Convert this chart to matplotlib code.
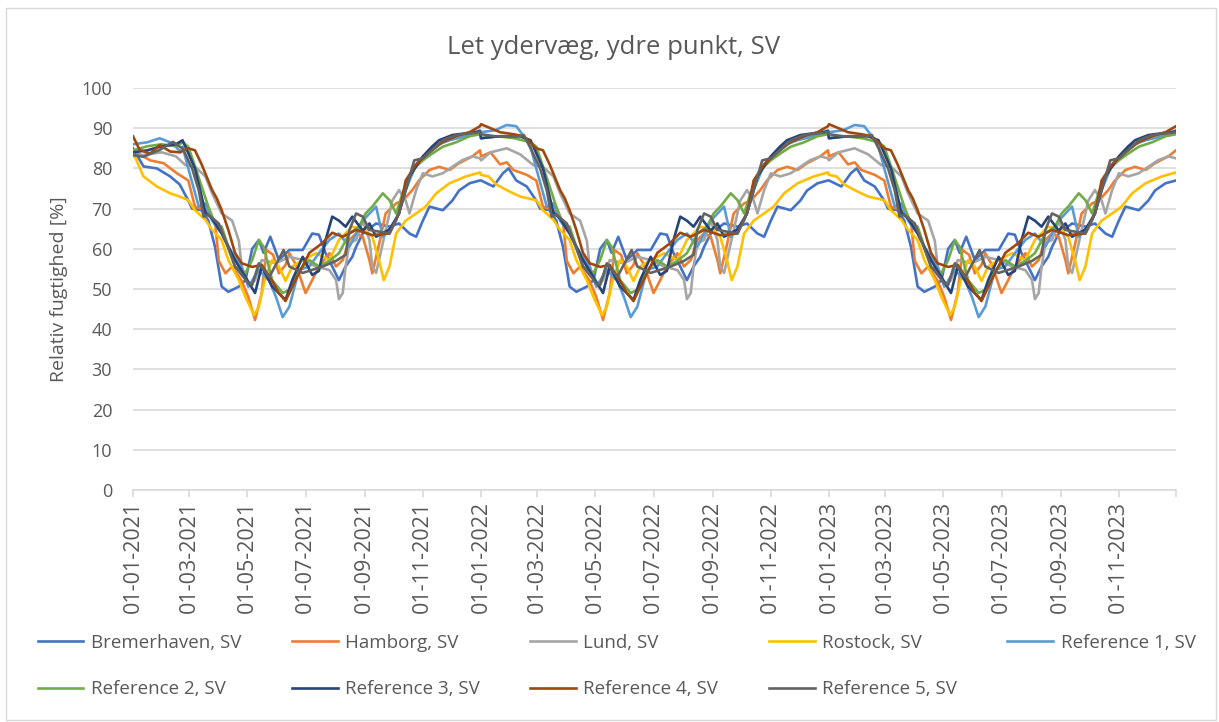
import matplotlib
matplotlib.use("Agg")
import matplotlib.pyplot as plt
import matplotlib.dates as mdates
from matplotlib.patches import Rectangle
import pandas as pd

# ---------------- data ----------------
YEARS = [2021, 2022, 2023]
X_END = "2023-12-31"
TICK_MONTHS = [1, 3, 5, 7, 9, 11]

SERIES_NAMES = ["Bremerhaven, SV", "Hamborg, SV", "Lund, SV", "Rostock, SV",
                "Reference 1, SV", "Reference 2, SV", "Reference 3, SV",
                "Reference 4, SV", "Reference 5, SV"]
COLORS = ["#4472C4", "#ED7D31", "#A5A5A5", "#FFC000", "#5B9BD5",
          "#70AD47", "#264478", "#9E480E", "#636363"]

# one (repeating) year of readings: (day of year, relative humidity %)
BREMERHAVEN = [(0, 77), (13, 75.5), (23, 78.8), (29, 80), (37, 77), (48, 75.5), (58, 72),
               (62, 70), (72, 69.6), (79, 67), (86, 60.5), (93, 50.6), (100, 49.3),
               (111, 50.6), (118, 52.2), (125, 60), (132, 62.2), (137, 59), (144, 63),
               (153, 57.2), (164, 59.7), (178, 59.7), (188, 63.8), (195, 63.5), (202, 58.9),
               (209, 55.6), (216, 52.2), (223, 55.6), (230, 58), (234, 60.5), (241, 63.8),
               (255, 66.3), (269, 65.5), (279, 66.3), (290, 63.8), (297, 63), (304, 67),
               (311, 70.5), (325, 69.6), (335, 72), (342, 74.5), (353, 76.3), (364, 77)]
HAMBORG = [(0, 83), (10, 84), (20, 81), (27, 81.5), (34, 79.6), (48, 78.4), (58, 77),
           (65, 70.5), (76, 69.6), (86, 67), (90, 57), (97, 53.9), (104, 55.6), (114, 52),
           (121, 48), (128, 42.3), (135, 49), (140, 59.7), (147, 58.5), (153, 53.9),
           (160, 56), (164, 58.9), (171, 56), (181, 49), (188, 52.2), (195, 55.6),
           (206, 58.9), (213, 55.6), (220, 57.2), (227, 62.2), (234, 63.8), (241, 63),
           (248, 57.2), (251, 53.9), (258, 61), (265, 68.8), (276, 71.3), (283, 72),
           (293, 74.6), (300, 77), (311, 79.6), (321, 80.4), (332, 79.6), (342, 81.3),
           (356, 83), (364, 84.5)]
LUND = [(0, 82), (10, 84), (27, 85), (41, 83.5), (55, 80.8), (65, 80.4), (76, 78),
        (83, 73.8), (93, 68.8), (104, 67), (111, 62), (114, 55.6), (121, 50.6), (128, 52.2),
        (135, 57.2), (150, 56.4), (164, 58), (178, 57.2), (192, 55.6), (206, 54.7),
        (213, 52.2), (216, 47.5), (220, 49), (223, 55.6), (227, 61.4), (234, 62.2),
        (241, 67), (248, 62.2), (251, 55.6), (255, 54), (262, 61.4), (272, 72), (279, 74.6),
        (286, 72), (290, 68.8), (297, 74.6), (304, 78.8), (314, 78), (325, 78.8),
        (335, 80.4), (345, 82), (356, 83), (364, 82.5)]
ROSTOCK = [(0, 78.4), (8, 78), (16, 76), (27, 74.6), (41, 73), (58, 72.1), (65, 69.6),
           (76, 67.2), (83, 64.7), (93, 62.2), (100, 57.2), (111, 52.2), (118, 48),
           (127, 43.5), (132, 45.6), (139, 53), (146, 57.2), (153, 55.6), (160, 52),
           (167, 55.6), (178, 57.2), (192, 58.9), (206, 57.2), (216, 62.2), (230, 65.5),
           (244, 64.7), (251, 63), (258, 57.2), (263, 52.2), (269, 55.6), (276, 63.8),
           (286, 67), (297, 68.8), (307, 70.5), (318, 73.8), (332, 76.3), (349, 78),
           (364, 79)]
REFERENCE_1 = [(0, 89), (15, 89.5), (27, 90.8), (37, 90.5), (45, 88), (52, 85.4), (58, 80),
               (69, 70.5), (76, 71.3), (83, 67), (93, 63.8), (100, 60.5), (107, 58),
               (114, 55.6), (121, 50.6), (132, 54.7), (143, 52), (150, 48), (157, 43),
               (164, 45.6), (174, 54.7), (185, 55.6), (195, 58.9), (206, 62.2), (216, 63.8),
               (227, 60.5), (234, 63.8), (241, 67), (255, 70.5), (262, 63), (276, 67),
               (286, 74.6), (297, 81), (314, 85.4), (332, 87), (349, 88), (364, 89.5)]
REFERENCE_2 = [(0, 87.5), (17, 88), (35, 87.5), (52, 86.5), (58, 85.4), (65, 80.5),
               (72, 75.5), (79, 70.5), (86, 66.3), (93, 65.5), (100, 60.5), (107, 55.6),
               (118, 54), (125, 57.2), (132, 62.2), (137, 60.5), (146, 52.2), (157, 49),
               (164, 49.8), (171, 53.9), (185, 57.2), (195, 55.6), (206, 57), (216, 58.9),
               (227, 63.8), (237, 65.5), (244, 68.8), (251, 70.5), (262, 73.8), (269, 72.1),
               (276, 68.8), (283, 74), (293, 79.6), (304, 82), (314, 83.7), (325, 85.4),
               (339, 86.5), (353, 88), (364, 88.5)]
REFERENCE_3 = [(0, 87.5), (20, 88), (41, 88), (52, 87), (65, 80), (76, 69), (83, 67.5),
               (93, 63.8), (107, 57.2), (122, 51.4), (128, 49), (135, 55.6), (146, 50.6),
               (160, 47.3), (167, 52.2), (178, 58), (188, 53.5), (195, 54.5), (202, 62.2),
               (209, 68), (216, 67), (223, 65.5), (230, 68), (241, 64.5), (248, 66.3),
               (255, 63), (269, 64.8), (279, 68.8), (290, 78), (304, 83), (314, 85.5),
               (321, 87), (335, 88.3), (364, 89.2)]
REFERENCE_4 = [(0, 91), (10, 90), (20, 89), (34, 88.5), (45, 88), (58, 85), (65, 84.5),
               (72, 81), (83, 74.6), (88, 72.5), (93, 69.6), (100, 64.7), (107, 59),
               (114, 56.4), (125, 55.5), (135, 56), (146, 52), (153, 49), (160, 47),
               (170, 52), (185, 59), (198, 61.3), (209, 64), (220, 63), (234, 64.7),
               (251, 63.4), (269, 63.8), (279, 68.8), (286, 77), (297, 81), (311, 84),
               (325, 86.6), (339, 88), (353, 89), (364, 90.5)]
REFERENCE_5 = [(0, 88.5), (15, 88), (41, 88), (45, 88.3), (52, 85), (62, 80), (69, 74.5),
               (74, 68), (79, 68.5), (90, 66.3), (97, 62), (107, 55.6), (121, 51.4),
               (125, 51), (132, 56.4), (143, 53), (158, 59.7), (164, 55.6), (178, 54),
               (199, 55.6), (213, 57), (223, 58.5), (227, 64.7), (234, 68.8), (241, 68),
               (248, 64.7), (269, 63.8), (279, 68.8), (295, 82), (304, 82.5), (314, 84.6),
               (325, 87), (339, 88.3), (364, 89)]

# first weeks of 2021 (start-up values before the yearly cycle settles)
START_DAYS_2021 = 52
START_2021 = [
    [(0, 85), (11, 80.5), (25, 80), (39, 78), (49, 76)],
    [(0, 84.5), (18, 82), (32, 81.3), (46, 78.8)],
    [(0, 83), (15, 83.5), (30, 84), (45, 83)],
    [(0, 84), (11, 78), (25, 75.5), (39, 73.8), (49, 73)],
    [(0, 86), (15, 86.5), (28, 87.5), (42, 86.2), (50, 84)],
    [(0, 84.5), (15, 85.5), (30, 86), (45, 85.5)],
    [(0, 84), (15, 84.5), (30, 85.5), (45, 86)],
    [(0, 88), (7, 84.6), (18, 83.7), (28, 85.8), (39, 84.2), (49, 84)],
    [(0, 83.3), (11, 82.9), (28, 84.6), (42, 86.6), (49, 85.4)],
]

SERIES = [BREMERHAVEN, HAMBORG, LUND, ROSTOCK, REFERENCE_1, REFERENCE_2,
          REFERENCE_3, REFERENCE_4, REFERENCE_5]

TITLE = "Let ydervæg, ydre punkt, SV"
YLABEL = "Relativ fugtighed [%]"
TEXT_COLOR = "#595959"
GRID_COLOR = "#D9D9D9"

plt.rcParams["font.family"] = ["Open Sans", "DejaVu Sans"]


def build(points, start):
    dates, vals = [], []
    for i, yr in enumerate(YEARS):
        base = pd.Timestamp(yr, 1, 1)
        if i == 0:
            pts = start + [p for p in points if p[0] >= START_DAYS_2021]
        else:
            pts = points
        for d, v in pts:
            dates.append(base + pd.Timedelta(days=d))
            vals.append(v)
    return dates, vals


fig = plt.figure(figsize=(12.19, 7.22), dpi=100)
fig.patches.append(Rectangle((6 / 1219, 2 / 722), 1210 / 1219, 712 / 722,
                             transform=fig.transFigure, fill=False,
                             edgecolor=GRID_COLOR, lw=1.0))
ax = fig.add_axes([133 / 1219, 1 - 490 / 722, (1176 - 133) / 1219, (490 - 88) / 722])

lines = []
for name, col, pts, st in zip(SERIES_NAMES, COLORS, SERIES, START_2021):
    d, v = build(pts, st)
    ln, = ax.plot(d, v, color=col, lw=1.9, label=name, solid_joinstyle="round")
    lines.append(ln)

ax.set_ylim(0, 100)
ax.set_yticks(range(0, 101, 10))
ax.set_xlim(pd.Timestamp(YEARS[0], 1, 1), pd.Timestamp(X_END))
ax.xaxis.set_major_locator(mdates.MonthLocator(bymonth=TICK_MONTHS))
ax.xaxis.set_major_formatter(mdates.DateFormatter("%d-%m-%Y"))
ax.set_xticks([pd.Timestamp(X_END)], minor=True)

ax.grid(axis="y", color=GRID_COLOR, lw=1.2)
ax.set_axisbelow(True)
for s in ["top", "right", "left"]:
    ax.spines[s].set_visible(False)
ax.spines["bottom"].set_color(GRID_COLOR)
ax.spines["bottom"].set_linewidth(1.2)
ax.spines["bottom"].set_zorder(0.5)

ax.tick_params(axis="y", length=0, pad=15, labelsize=13, labelcolor=TEXT_COLOR)
ax.tick_params(axis="x", which="both", length=5, width=1.2, color=GRID_COLOR,
               direction="out", pad=3, labelsize=15.5, labelcolor=TEXT_COLOR,
               labelrotation=90)

ax.set_ylabel(YLABEL, fontsize=14, color=TEXT_COLOR)
ax.yaxis.set_label_coords(-0.062, 0.5)

fig.text(0.503, 1 - 47 / 722, TITLE, ha="center", va="center", fontsize=18.5,
         color=TEXT_COLOR)

# legend filled row by row (5 per row) like the reference
ncol = 5
nrow = -(-len(lines) // ncol)
order = []
for c in range(ncol):
    for r in range(nrow):
        k = r * ncol + c
        if k < len(lines):
            order.append(k)
leg = fig.legend([lines[k] for k in order], [SERIES_NAMES[k] for k in order],
                 loc="upper left", bbox_to_anchor=(30 / 1219, 1 - 710 / 722, 1173 / 1219, 84 / 722),
                 mode="expand", ncol=ncol, frameon=False, fontsize=13.5, handlelength=2.45,
                 handletextpad=0.4, labelspacing=1.54, borderaxespad=0)
for t in leg.get_texts():
    t.set_color(TEXT_COLOR)

fig.savefig("out.png", dpi=100)
